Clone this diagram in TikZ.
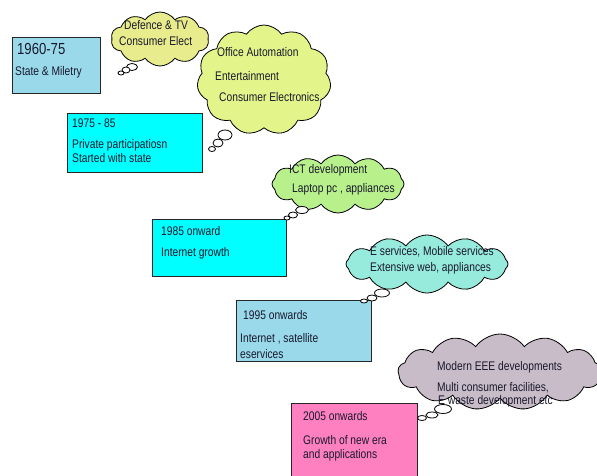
\documentclass[tikz,border=0pt]{standalone}
\usepackage{fontspec}
\setmainfont[FakeStretch=0.82]{Liberation Sans}
\usetikzlibrary{shapes.symbols,shapes.geometric}
\definecolor{paleblue}{RGB}{153,217,234}
\definecolor{cyanbox}{RGB}{0,255,255}
\definecolor{pinkbox}{RGB}{255,128,192}
\definecolor{cloudyel}{RGB}{232,236,140}
\definecolor{cloudlime}{RGB}{227,245,138}
\definecolor{cloudgreen}{RGB}{184,240,140}
\definecolor{cloudaqua}{RGB}{150,235,220}
\definecolor{cloudgrey}{RGB}{200,188,200}
\definecolor{txt}{RGB}{25,25,45}
\tikzset{
  boxshape/.style={draw=black!85, line width=0.9pt, anchor=north west, inner sep=0pt},
  thought/.style={cloud, cloud puffs=12, cloud puff arc=110, cloud ignores aspect, draw=black, line width=0.8pt, inner sep=0pt},
  bubble/.style={ellipse, draw=black, line width=0.8pt, fill=white, inner sep=0pt},
  lbl/.style={anchor=base west, inner sep=0pt, text=txt, font=\fontsize{12.5}{14}\selectfont},
  biglbl/.style={lbl, font=\fontsize{16}{18}\selectfont}
}
\begin{document}
\begin{tikzpicture}[x=1pt,y=-1pt]
\useasboundingbox (0,0) rectangle (597,476);
\fill[white] (0,0) rectangle (597,476);
% boxes
\node[boxshape, fill=paleblue, minimum width=88, minimum height=56] (b1) at (12,37) {};
\node[boxshape, fill=cyanbox, minimum width=135, minimum height=59] (b2) at (67,113) {};
\node[boxshape, fill=cyanbox, minimum width=134, minimum height=57] (b3) at (152,219) {};
\node[boxshape, fill=paleblue, minimum width=135, minimum height=61] (b4) at (236,300) {};
\node[boxshape, fill=pinkbox, minimum width=126, minimum height=80] (b5) at (291,403) {};
% clouds
\node[thought, fill=cloudyel, minimum width=98, minimum height=54, cloud puffs=10] (c1) at (160,39) {};
\node[thought, fill=cloudlime, minimum width=134, minimum height=110, cloud puffs=11] (c2) at (264,80) {};
\node[thought, fill=cloudgreen, minimum width=132, minimum height=58] (c3) at (338,184) {};
\node[thought, fill=cloudaqua, minimum width=162, minimum height=58] (c4) at (427,264) {};
\node[thought, fill=cloudgrey, minimum width=204, minimum height=76, cloud puffs=13] (c5) at (500,372) {};
% thought bubbles
\node[bubble, minimum width=11, minimum height=7] (t1a) at (132,67) {};
\node[bubble, minimum width=8, minimum height=6] (t1b) at (126,70) {};
\node[bubble, minimum width=6, minimum height=4] (t1c) at (121,73) {};
\node[bubble, minimum width=14, minimum height=10] (t2a) at (225,135) {};
\node[bubble, minimum width=10, minimum height=8] (t2b) at (218,143) {};
\node[bubble, minimum width=7, minimum height=5] (t2c) at (212,149) {};
\node[bubble, minimum width=13, minimum height=7] (t3a) at (302,210) {};
\node[bubble, minimum width=9, minimum height=6] (t3b) at (293,215) {};
\node[bubble, minimum width=6, minimum height=4] (t3c) at (287,218) {};
\node[bubble, minimum width=15, minimum height=8] (t4a) at (382,293) {};
\node[bubble, minimum width=10, minimum height=6] (t4b) at (372,298) {};
\node[bubble, minimum width=7, minimum height=4] (t4c) at (364,301) {};
\node[bubble, minimum width=17, minimum height=9] (t5a) at (443,409) {};
\node[bubble, minimum width=12, minimum height=6] (t5b) at (432,415) {};
\node[bubble, minimum width=9, minimum height=5] (t5c) at (422,418) {};
% labels
\node[biglbl] (l1a) at (17,55) {1960-75};
\node[lbl] (l1b) at (15,76) {State \& Miletry};
\node[lbl] (l2a) at (72,128) {1975 - 85};
\node[lbl] (l2b) at (72,149) {Private participatiosn};
\node[lbl] (l2c) at (72,162) {Started with state};
\node[lbl] (l3a) at (161,235) {1985 onward};
\node[lbl] (l3b) at (161,256) {Internet growth};
\node[lbl] (l4a) at (243,319) {1995 onwards};
\node[lbl] (l4b) at (240,342) {Internet , satellite};
\node[lbl] (l4c) at (240,358) {eservices};
\node[lbl] (l5a) at (303,420) {2005 onwards};
\node[lbl] (l5b) at (303,444) {Growth of new era};
\node[lbl] (l5c) at (303,458) {and applications};
\node[lbl] (k1a) at (124,30) {Defence \& TV};
\node[lbl] (k1b) at (119,46) {Consumer Elect};
\node[lbl] (k2a) at (217,57) {Office Automation};
\node[lbl] (k2b) at (215,81) {Entertainment};
\node[lbl] (k2c) at (219,102) {Consumer Electronics};
\node[lbl] (k3a) at (289,173) {ICT development};
\node[lbl] (k3b) at (292,193) {Laptop pc , appliances};
\node[lbl] (k4a) at (370,255) {E services, Mobile services};
\node[lbl] (k4b) at (370,271) {Extensive web, appliances};
\node[lbl] (k5a) at (437,370) {Modern EEE developments};
\node[lbl] (k5b) at (437,391) {Multi consumer facilities,};
\node[lbl] (k5c) at (438,404) {E waste development etc};
\end{tikzpicture}
\end{document}
